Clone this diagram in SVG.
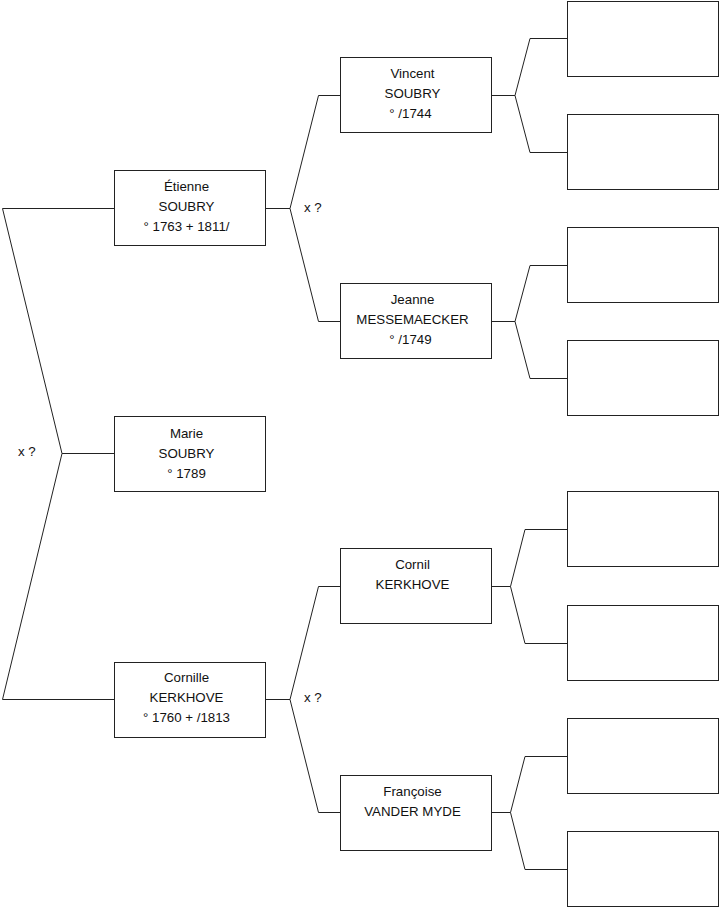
<svg xmlns="http://www.w3.org/2000/svg" width="719" height="908" viewBox="0 0 719 908">
<style>
.box{fill:#fff;stroke:#222;stroke-width:1}
.ln{fill:none;stroke:#222;stroke-width:1}
text{font-family:"Liberation Sans",Arial,sans-serif;font-size:13.3px;fill:#111;text-anchor:middle}
.lbl{text-anchor:start}
</style>
<rect width="719" height="908" fill="#fff"/>
<g id="connectors">
<polyline class="ln" points="114,208.5 2.5,208.5 62,453.5 2.5,699.5 114,699.5"/>
<line class="ln" x1="62" y1="453.5" x2="114" y2="453.5"/>
<polyline class="ln" points="265,208.5 290,208.5"/>
<polyline class="ln" points="340,95.5 318.5,95.5 290,208.5 318.5,321.5 340,321.5"/>
<polyline class="ln" points="265,699.5 290,699.5"/>
<polyline class="ln" points="340,586.5 318.5,586.5 290,699.5 318.5,812.5 340,812.5"/>
<polyline class="ln" points="491,95.5 515,95.5"/>
<polyline class="ln" points="567,38.5 530,38.5 515,95.5 530,152.5 567,152.5"/>
<polyline class="ln" points="491,321.5 515,321.5"/>
<polyline class="ln" points="567,265.5 530,265.5 515,321.5 530,378.5 567,378.5"/>
<polyline class="ln" points="491,586.5 510.5,586.5"/>
<polyline class="ln" points="567,529.5 525,529.5 510.5,586.5 525,643.5 567,643.5"/>
<polyline class="ln" points="491,812.5 510.5,812.5"/>
<polyline class="ln" points="567,756.5 525,756.5 510.5,812.5 525,869.5 567,869.5"/>
<text class="lbl" x="18" y="456">x ?</text>
<text class="lbl" x="304" y="212">x ?</text>
<text class="lbl" x="304" y="702">x ?</text>
</g>
<g id="etienne">
<rect class="box" x="114.5" y="170.5" width="151" height="75"/>
<text x="186.5" y="191">Étienne</text>
<text x="186.5" y="211">SOUBRY</text>
<text x="186.5" y="231">° 1763 + 1811/</text>
</g>
<g id="marie">
<rect class="box" x="114.5" y="416.5" width="151" height="75"/>
<text x="186.5" y="437.5">Marie</text>
<text x="186.5" y="457.5">SOUBRY</text>
<text x="186.5" y="477.5">° 1789</text>
</g>
<g id="cornille">
<rect class="box" x="114.5" y="662.5" width="151" height="75"/>
<text x="186.5" y="682">Cornille</text>
<text x="186.5" y="702">KERKHOVE</text>
<text x="186.5" y="722">° 1760 + /1813</text>
</g>
<g id="vincent">
<rect class="box" x="340.5" y="57.5" width="151" height="75"/>
<text x="412.5" y="78">Vincent</text>
<text x="412.5" y="98">SOUBRY</text>
<text x="410.5" y="118">° /1744</text>
</g>
<g id="jeanne">
<rect class="box" x="340.5" y="283.5" width="151" height="75"/>
<text x="412.5" y="304">Jeanne</text>
<text x="412.5" y="324">MESSEMAECKER</text>
<text x="410.5" y="344">° /1749</text>
</g>
<g id="cornil">
<rect class="box" x="340.5" y="548.5" width="151" height="75"/>
<text x="412.5" y="569">Cornil</text>
<text x="412.5" y="589">KERKHOVE</text>
</g>
<g id="francoise">
<rect class="box" x="340.5" y="775.5" width="151" height="75"/>
<text x="412.5" y="796">Françoise</text>
<text x="412.5" y="816">VANDER MYDE</text>
</g>
<g id="p1"><rect class="box" x="567.5" y="1.5" width="151" height="75"/></g>
<g id="p2"><rect class="box" x="567.5" y="114.5" width="151" height="75"/></g>
<g id="p3"><rect class="box" x="567.5" y="227.5" width="151" height="75"/></g>
<g id="p4"><rect class="box" x="567.5" y="340.5" width="151" height="75"/></g>
<g id="p5"><rect class="box" x="567.5" y="491.5" width="151" height="75"/></g>
<g id="p6"><rect class="box" x="567.5" y="605.5" width="151" height="75"/></g>
<g id="p7"><rect class="box" x="567.5" y="718.5" width="151" height="75"/></g>
<g id="p8"><rect class="box" x="567.5" y="831.5" width="151" height="75"/></g>
</svg>
